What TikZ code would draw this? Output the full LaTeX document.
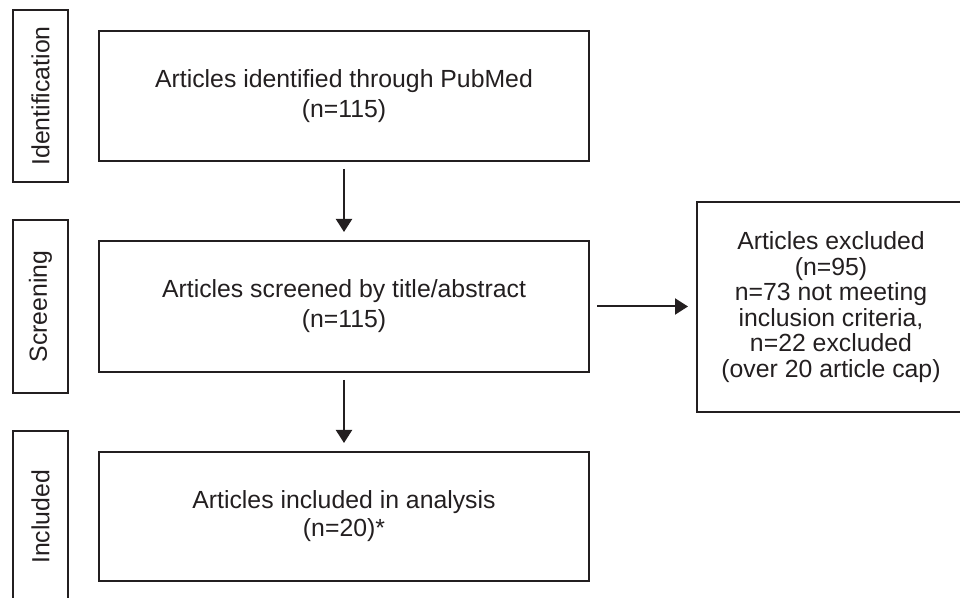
\documentclass[tikz,border=0pt]{standalone}
\usepackage{fontspec}
\setmainfont{Liberation Sans}
\usetikzlibrary{arrows.meta}
\definecolor{linec}{RGB}{35,31,32}
\begin{document}
\begin{tikzpicture}[x=0.5pt,y=-0.5pt,
  box/.style={draw=linec, text=linec, line width=1pt, inner sep=0pt, align=center,
    font=\fontsize{12.4}{15}\selectfont},
  side/.style={draw=linec, text=linec, line width=1pt, inner sep=0pt, rotate=90,
    font=\fontsize{12.4}{15}\selectfont, minimum width=86pt, minimum height=27.5pt},
  arr/.style={-{Triangle[width=8pt,length=6.5pt]}, line width=1pt, draw=linec,
    shorten <=3.5pt, shorten >=4pt}]
\useasboundingbox (0,0) rectangle (960,598);
\clip (0,0) rectangle (960,598);

% side labels
\node[side] (s1) at (40.5,96) {Identification};
\node[side, minimum width=86.5pt] (s2) at (40.5,306.5) {Screening};
\node[side] (s3) at (40.5,517) {Included};

% main boxes
\node[box, minimum width=245pt, minimum height=65pt] (b1) at (344,96)
  {Articles identified through PubMed\\(n=115)};
\node[box, minimum width=245pt, minimum height=65.5pt] (b2) at (344,306.5)
  {Articles screened by title/abstract\\(n=115)};
\node[box, minimum width=245pt, minimum height=64.5pt,
  font=\fontsize{12.4}{14}\selectfont] (b3) at (344,516.5)
  {Articles included in analysis\\(n=20)*};
\node[box, minimum width=134pt, minimum height=105pt,
  font=\fontsize{12.4}{12.8}\selectfont] (rb) at (831,307)
  {Articles excluded\\(n=95)\\n=73 not meeting\\inclusion criteria,\\n=22 excluded\\(over 20 article cap)};

% connectors
\draw[arr] (b1.south) -- (b2.north);
\draw[arr] (b2.south) -- (b3.north);
\draw[arr] (b2.east) -- (b2.east -| rb.west);
\end{tikzpicture}
\end{document}
